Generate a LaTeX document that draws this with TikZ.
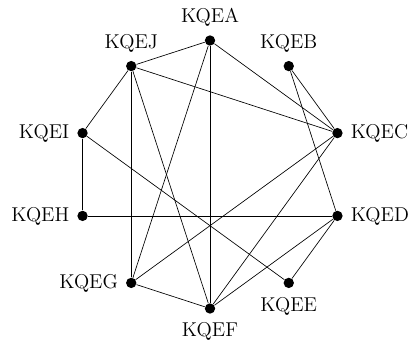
\documentclass[tikz,border=0pt]{standalone}
\usepackage{tikz}
\usetikzlibrary{positioning}
\tikzset{
    vertex/.style={circle, fill=black, inner sep=0pt, minimum size=6.2pt},
    edge/.style={thin, black},
    every label/.style={font=\large, inner sep=2pt, label distance=2.5pt}
}
\begin{document}
\begin{tikzpicture}
    \useasboundingbox (-126pt,-103.5pt) rectangle (119.4pt,104.7pt);

    \node[vertex, label={[label distance=3pt]above:KQEA}] (A) at (90:80.4pt) {};
    \node[vertex, label={[label distance=3pt]above:KQEB}] (B) at (54:80.4pt) {};
    \node[vertex, label=right:KQEC] (C) at (18:80.4pt) {};
    \node[vertex, label=right:KQED] (D) at (-18:80.4pt) {};
    \node[vertex, label={[label distance=3pt]below:KQEE}] (E) at (-54:80.4pt) {};
    \node[vertex, label={[label distance=3pt]below:KQEF}] (F) at (-90:80.4pt) {};
    \node[vertex, label=left:KQEG] (G) at (-126:80.4pt) {};
    \node[vertex, label=left:KQEH] (H) at (-162:80.4pt) {};
    \node[vertex, label=left:KQEI] (I) at (162:80.4pt) {};
    \node[vertex, label={[label distance=3pt]above:KQEJ}] (J) at (126:80.4pt) {};

    \foreach \a/\b in {A/J, A/C, A/F, A/G, J/I, J/G, J/F, J/C, B/C, B/D,
                       I/H, I/E, H/D, C/G, C/F, D/F, D/E, G/F}
        \draw[edge] (\a) -- (\b);

\end{tikzpicture}
\end{document}
